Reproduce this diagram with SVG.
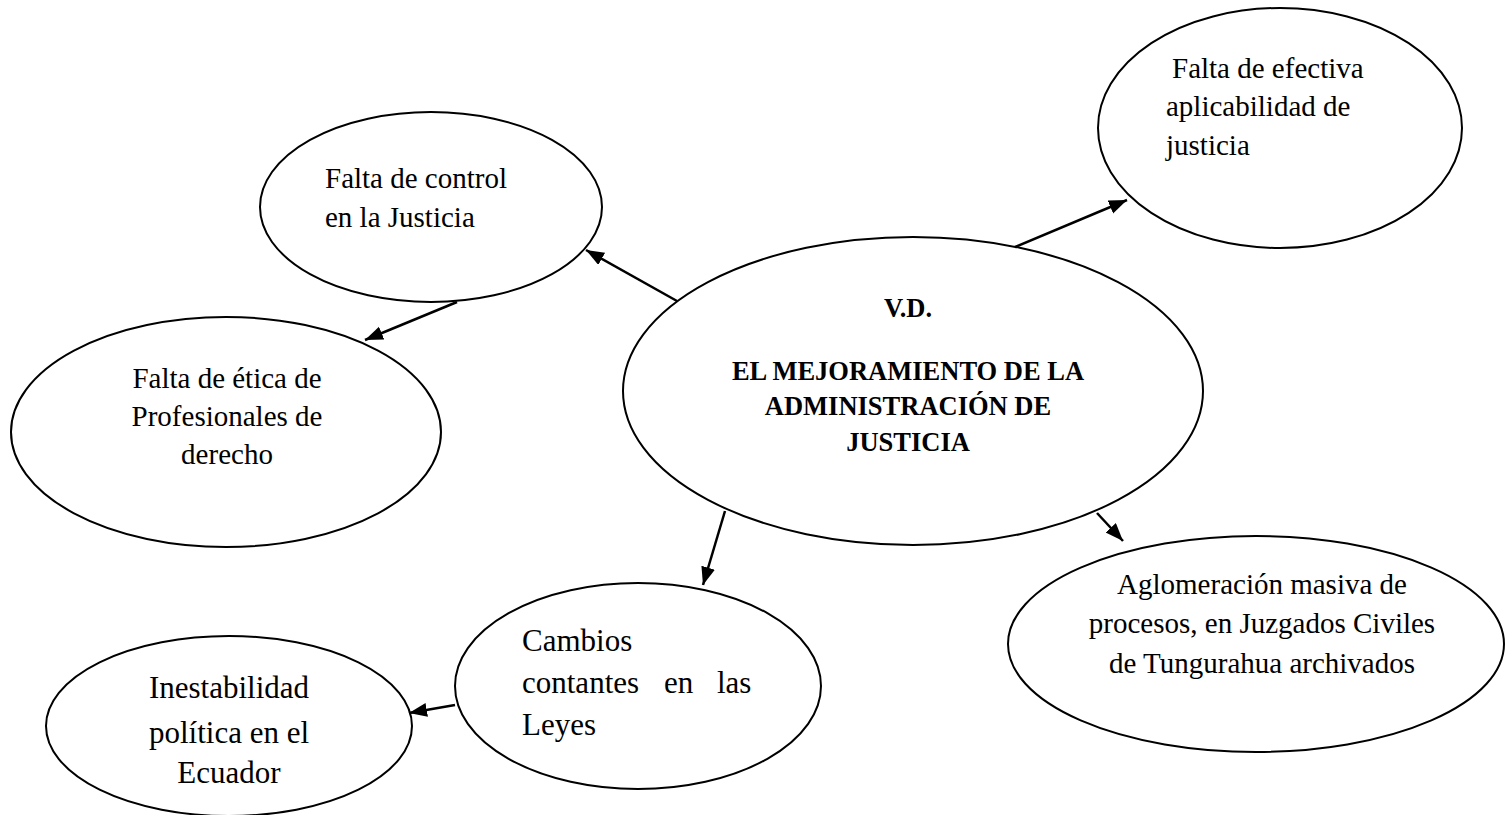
<svg xmlns="http://www.w3.org/2000/svg" width="1505" height="815" viewBox="0 0 1505 815">
<style>
.node ellipse{fill:#fff;stroke:#000;stroke-width:2}
.t{font-family:"Liberation Serif","Times New Roman",serif;font-size:29px;fill:#000}
.l{font-size:31px}
.c{text-anchor:middle}
.b{font-weight:bold;font-size:26.5px}
.conn line{stroke:#000;stroke-width:2.5;marker-end:url(#ah)}
</style>
<defs>
<marker id="ah" markerUnits="userSpaceOnUse" markerWidth="20" markerHeight="16" refX="18" refY="7" orient="auto">
<path d="M0,0 L18,7 L0,14 Z" fill="#000"/>
</marker>
</defs>
<rect width="1505" height="815" fill="#fff"/>
<g id="n-center" class="node">
<ellipse cx="913" cy="391" rx="290" ry="154"/>
<text class="t c b" x="908" y="317">V.D.</text>
<text class="t c b" x="908" y="380">EL MEJORAMIENTO DE LA</text>
<text class="t c b" x="908" y="415">ADMINISTRACIÓN DE</text>
<text class="t c b" x="908" y="451">JUSTICIA</text>
</g>
<g id="n-efectiva" class="node">
<ellipse cx="1280" cy="128" rx="182" ry="120"/>
<text class="t" x="1172" y="78">Falta de efectiva</text>
<text class="t" x="1166" y="116">aplicabilidad de</text>
<text class="t" x="1166" y="155">justicia</text>
</g>
<g id="n-control" class="node">
<ellipse cx="431" cy="207" rx="171" ry="95"/>
<text class="t" x="325" y="188">Falta de control</text>
<text class="t" x="325" y="227">en la Justicia</text>
</g>
<g id="n-etica" class="node">
<ellipse cx="226" cy="432" rx="215" ry="115"/>
<text class="t c" x="227" y="388">Falta de ética de</text>
<text class="t c" x="227" y="426">Profesionales de</text>
<text class="t c" x="227" y="464">derecho</text>
</g>
<g id="n-aglomeracion" class="node">
<ellipse cx="1256" cy="644" rx="248" ry="108"/>
<text class="t c" x="1262" y="594">Aglomeración masiva de</text>
<text class="t c" x="1262" y="633">procesos, en Juzgados Civiles</text>
<text class="t c" x="1262" y="673">de Tungurahua archivados</text>
</g>
<g id="n-cambios" class="node">
<ellipse cx="638" cy="686" rx="183" ry="103"/>
<text class="t l" x="522" y="651">Cambios</text>
<text class="t l" y="693"><tspan x="522">contantes</tspan><tspan x="664">en</tspan><tspan x="717">las</tspan></text>
<text class="t l" x="522" y="735">Leyes</text>
</g>
<g id="n-inestabilidad" class="node">
<ellipse cx="229" cy="726" rx="183" ry="90"/>
<text class="t c l" x="229" y="698">Inestabilidad</text>
<text class="t c l" x="229" y="743">política en el</text>
<text class="t c l" x="229" y="783">Ecuador</text>
</g>
<g id="connectors" class="conn">
<line x1="677" y1="301" x2="586" y2="250"/>
<line x1="457" y1="302" x2="365" y2="340"/>
<line x1="1015" y1="247" x2="1127" y2="200"/>
<line x1="725" y1="511" x2="703" y2="585"/>
<line x1="1097" y1="513" x2="1123" y2="541"/>
<line x1="455" y1="705" x2="409" y2="713"/>
</g>
</svg>
